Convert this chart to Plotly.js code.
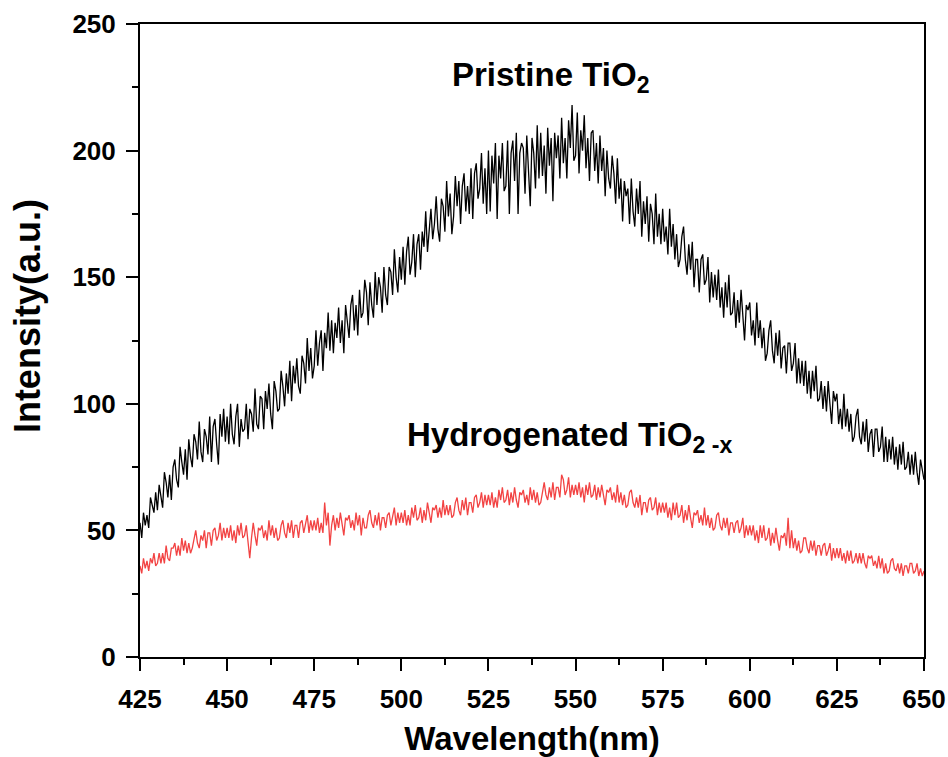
<!DOCTYPE html>
<html>
<head>
<meta charset="utf-8">
<script src="https://cdn.plot.ly/plotly-3.0.1.min.js"></script>
<style>html,body{margin:0;padding:0;background:#fff;}#chart{width:948px;height:757px;}</style>
</head>
<body>
<div id="chart"></div>
<script>
// Wavelength grid: start 425 nm, step 0.5 nm (451 samples)
const wavelengthStart = 425;
const wavelengthStep = 0.5;

// Pristine TiO2 intensity (a.u.)
const pristine = [
53,47,57,52,56,51,63,60,57,65,
58,68,63,59,73,69,63,72,62,75,
78,70,67,83,77,72,82,70,86,79,
75,88,85,78,93,81,77,90,87,80,
95,77,91,94,84,76,96,87,98,85,
95,84,100,88,84,95,100,83,94,89,
90,100,86,98,96,89,106,92,90,103,
102,90,105,98,108,96,90,109,105,97,
98,113,107,99,112,104,117,101,115,108,
118,107,104,119,116,108,126,113,122,110,
115,129,115,124,129,113,128,122,136,121,
133,120,132,126,138,124,133,120,139,131,
126,139,143,129,139,127,145,134,136,149,
144,131,148,139,134,152,139,150,146,136,
154,143,139,154,152,143,161,150,144,158,
149,162,147,160,166,151,156,167,150,163,
167,153,168,162,176,160,170,177,165,171,
182,169,164,181,178,168,188,174,183,167,
174,190,178,188,171,186,191,176,186,175,
193,173,191,195,181,185,199,179,193,175,
200,176,198,187,203,173,198,189,203,184,
186,204,175,199,204,188,207,175,199,203,
201,183,206,190,178,205,199,185,210,189,
207,190,202,183,209,194,205,180,207,197,
206,189,213,195,205,189,212,201,218,196,
198,215,191,208,200,214,193,205,188,207,
208,192,203,187,206,192,201,182,200,189,
185,198,191,179,197,181,189,172,188,182,
185,171,189,176,170,185,175,188,166,180,
171,182,164,179,175,163,183,166,175,163,
177,164,170,159,177,162,171,157,167,154,
157,166,170,157,151,163,153,164,146,157,
157,144,157,159,147,149,158,140,152,142,
151,141,153,138,146,134,148,138,151,135,
136,144,130,141,132,145,134,125,139,137,
140,127,133,123,140,126,133,122,130,117,
120,129,133,121,116,128,119,129,114,122,
123,112,124,124,113,116,124,108,118,108,
117,107,117,104,113,102,113,105,115,101,
102,109,98,107,97,109,100,92,105,101,
104,92,98,90,104,91,98,89,96,85,
87,95,98,87,84,93,85,94,81,88,
90,79,90,90,81,83,91,77,87,77,
86,78,87,76,83,74,84,76,85,74,
75,81,72,80,72,81,73,68,78,74,
70
];

// Hydrogenated TiO2-x intensity (a.u.)
const hydrogenated = [
36,33,39,35,38,34,39,37,41,36,
37,41,37,41,37,44,39,38,43,43,
45,40,44,40,47,42,46,41,45,41,
43,47,50,45,43,48,46,50,43,49,
49,44,50,51,46,48,53,46,51,47,
51,47,52,46,50,45,52,48,53,47,
48,52,46,39,47,53,48,44,51,50,
52,47,50,46,54,48,52,47,51,46,
47,52,54,49,47,53,49,54,47,52,
52,47,53,54,49,52,56,49,54,50,
54,50,55,49,53,49,61,52,57,44,
52,56,50,55,51,57,52,48,55,54,
56,51,54,50,57,52,56,48,55,51,
51,56,58,53,51,56,52,57,50,55,
55,51,56,57,52,55,59,52,57,53,
57,53,58,52,56,52,59,55,60,54,
55,59,53,58,54,61,56,53,59,58,
60,55,59,55,62,56,60,56,60,55,
56,61,63,58,56,62,58,63,56,61,
61,57,63,64,59,61,65,59,64,60,
64,60,65,59,63,59,66,62,67,61,
62,66,60,65,61,67,62,59,65,64,
66,61,64,60,67,62,66,61,65,60,
61,66,69,64,62,67,63,69,62,67,
67,63,72,70,64,66,71,63,68,64,
68,64,69,63,67,61,68,64,69,63,
64,68,62,67,63,68,63,60,66,65,
67,62,65,61,68,61,65,60,64,59,
60,65,66,61,59,63,59,64,56,61,
61,57,62,63,58,59,63,56,61,57,
61,57,61,55,59,54,61,56,61,55,
56,60,53,58,54,60,55,51,57,56,
58,53,56,52,59,52,56,51,55,50,
51,56,57,52,50,55,51,55,48,53,
53,49,53,54,49,51,55,47,52,48,
52,48,52,46,50,45,52,47,52,46,
47,51,44,49,45,51,46,42,48,47,
49,44,55,43,50,43,47,42,46,41,
42,47,47,43,41,46,42,46,40,44,
44,40,44,45,40,42,45,38,43,39,
43,39,43,38,41,37,42,38,42,37,
38,41,37,41,37,41,37,35,40,39,
40,36,38,35,40,35,39,33,37,33,
34,38,39,35,34,37,33,37,32,36,
36,33,37,37,33,34,37,32,35,32,
34
];

const xTickVals = [425, 450, 475, 500, 525, 550, 575, 600, 625, 650];
const yTickVals = [0, 50, 100, 150, 200, 250];
const labelPristine = 'Pristine TiO<sub>2</sub>';
const labelHydro = 'Hydrogenated TiO<sub>2 -x</sub>';
const labelX = 'Wavelength(nm)';
const labelY = 'Intensity(a.u.)';

const FONT = '"Liberation Sans", Arial, sans-serif';

const traces = [
  {
    type: 'scatter', mode: 'lines', name: 'Pristine',
    x0: wavelengthStart, dx: wavelengthStep, y: pristine,
    line: {color: '#000000', width: 1.3}
  },
  {
    type: 'scatter', mode: 'lines', name: 'Hydrogenated',
    x0: wavelengthStart, dx: wavelengthStep, y: hydrogenated,
    line: {color: '#f24343', width: 1.3}
  }
];

const axisCommon = {
  showgrid: false, zeroline: false,
  showline: true, linecolor: '#000', linewidth: 2, mirror: true,
  ticks: 'outside', ticklen: 12, tickwidth: 2, tickcolor: '#000',
  tickfont: {family: FONT, size: 26, color: '#000', weight: 'bold'}
};

const layout = {
  width: 948, height: 757,
  margin: {l: 140, r: 24, t: 24, b: 100},
  paper_bgcolor: '#fff', plot_bgcolor: '#fff',
  showlegend: false,
  xaxis: Object.assign({}, axisCommon, {
    range: [425, 650], tickvals: xTickVals,
    ticklabelstandoff: 6,
    minor: {ticks: 'outside', ticklen: 6, tickwidth: 2, tickcolor: '#000', dtick: 12.5, tick0: 425},
    title: {text: labelX, font: {family: FONT, size: 33, color: '#000', weight: 'bold'}, standoff: 20}
  }),
  yaxis: Object.assign({}, axisCommon, {
    range: [0, 250], tickvals: yTickVals,
    ticklabelstandoff: 5,
    minor: {ticks: 'outside', ticklen: 6, tickwidth: 2, tickcolor: '#000', dtick: 25, tick0: 0}
  }),
  annotations: [
    {x: -0.144, y: 0.5387, xref: 'paper', yref: 'paper', text: labelY, showarrow: false,
     textangle: -90, xanchor: 'center', yanchor: 'middle',
     font: {family: FONT, size: 36, color: '#000', weight: 'bold'}},
    {x: 542.7, y: 229, xref: 'x', yref: 'y', text: labelPristine, showarrow: false,
     xanchor: 'center', yanchor: 'middle',
     font: {family: FONT, size: 33, color: '#000', weight: 'bold'}},
    {x: 548.4, y: 87, xref: 'x', yref: 'y', text: labelHydro, showarrow: false,
     xanchor: 'center', yanchor: 'middle',
     font: {family: FONT, size: 33, color: '#000', weight: 'bold'}}
  ]
};

Plotly.newPlot('chart', traces, layout, {staticPlot: true, displayModeBar: false});
</script>
</body>
</html>
